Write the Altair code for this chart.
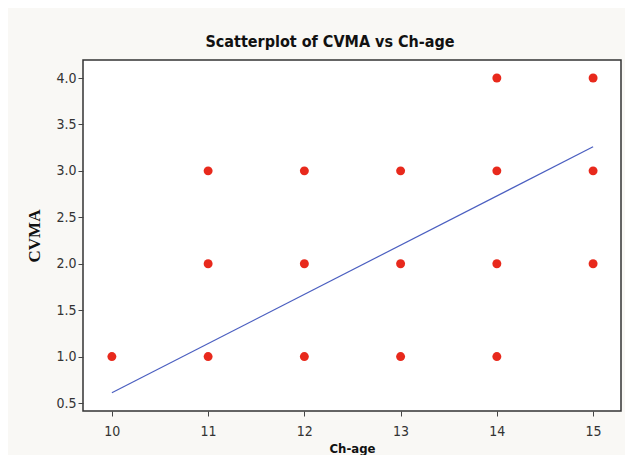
import altair as alt
import pandas as pd

# Scatter data (Ch-age vs CVMA)
ch_age = [10, 11, 11, 11, 12, 12, 12, 13, 13, 13, 14, 14, 14, 14, 15, 15, 15]
cvma = [1, 1, 2, 3, 1, 2, 3, 1, 2, 3, 1, 2, 3, 4, 2, 3, 4]

# Fitted line end points
line_x = [10, 15]
line_y = [0.61, 3.26]

x_ticks = [10, 11, 12, 13, 14, 15]
y_ticks = [0.5, 1.0, 1.5, 2.0, 2.5, 3.0, 3.5, 4.0]

pts = pd.DataFrame({"Ch-age": ch_age, "CVMA": cvma})
fit = pd.DataFrame({"Ch-age": line_x, "CVMA": line_y})

xs = alt.Scale(domain=[9.7, 15.29], nice=False, zero=False)
ys = alt.Scale(domain=[0.414, 4.194], nice=False, zero=False)

xaxis = alt.Axis(values=x_ticks, format="d", title="Ch-age", grid=False, domain=False,
                 tickSize=5, tickColor="#444", labelPadding=8, labelFontSize=14,
                 labelColor="#333", labelFont="DejaVu Sans Condensed",
                 titleFont="DejaVu Sans Condensed", titleFontWeight="bold", titleFontSize=13,
                 titleColor="#111", titlePadding=4)
yaxis = alt.Axis(values=y_ticks, format=".1f", title="CVMA", grid=False, domain=False,
                 tickSize=5, tickColor="#444", labelPadding=2, labelFontSize=14,
                 labelColor="#333", labelFont="DejaVu Sans Condensed",
                 titleFont="Liberation Serif", titleFontWeight="bold", titleFontSize=17,
                 titleColor="#111", titlePadding=12)

points = alt.Chart(pts).mark_circle(size=80, color="#e8291c", opacity=1).encode(
    x=alt.X("Ch-age:Q", scale=xs, axis=xaxis),
    y=alt.Y("CVMA:Q", scale=ys, axis=yaxis),
)
line = alt.Chart(fit).mark_line(color="#4b5fc0", strokeWidth=1.2).encode(
    x=alt.X("Ch-age:Q", scale=xs),
    y=alt.Y("CVMA:Q", scale=ys),
)

chart = (line + points).properties(
    width=538,
    height=351,
    title=alt.TitleParams("Scatterplot of CVMA vs Ch-age", font="DejaVu Sans Condensed",
                          fontSize=16, fontWeight="bold", color="#111", offset=10, dx=-22),
    background="#f9f8f5",
    autosize=alt.AutoSizeParams(type="none"),
    padding={"left": 75, "top": 52, "right": 4, "bottom": 44},
).configure_view(fill="white", stroke="#333", strokeWidth=1.5)

chart.save("out.html", embed_options={"renderer": "svg", "actions": False})
